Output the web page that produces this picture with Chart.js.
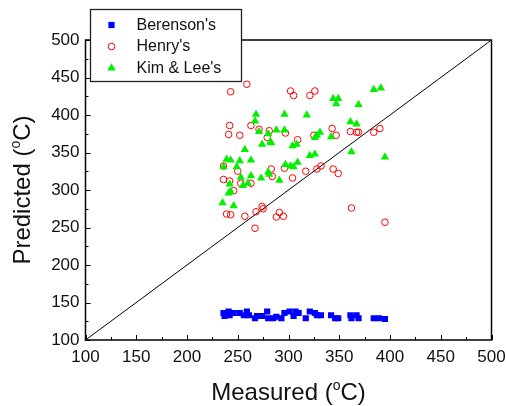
<!DOCTYPE html>
<html>
<head>
<meta charset="utf-8">
<script src="https://cdn.jsdelivr.net/npm/chart.js@4.4.0/dist/chart.umd.min.js"></script>
<style>
  html, body { margin: 0; padding: 0; background: #fff; }
  #wrap { width: 506px; height: 406px; }
</style>
</head>
<body>
<div id="wrap"><canvas id="chart" width="506" height="406"></canvas></div>
<script>
// measured vs predicted
const berensonX = [236, 237, 241, 242, 246, 252, 256, 259, 261, 267, 269, 274, 279, 280, 285, 288, 293, 296, 301, 305, 307, 310, 317, 321, 326, 328, 332, 342, 346, 349, 361, 362, 367, 369, 384, 389, 395];
const berensonY = [136, 132, 138, 133, 136, 136, 133, 138, 133, 129, 132, 132, 138, 129, 129, 131, 129, 136, 138, 132, 138, 136, 129, 138, 136, 133, 133, 133, 129, 129, 133, 129, 133, 129, 129, 129, 128];

const henryX = [243, 259, 302, 305, 321, 326, 242, 241, 252, 263, 271, 281, 297, 309, 279, 325, 343, 347, 361, 367, 369, 384, 390,
                236, 236, 242, 250, 253, 263, 246, 283, 284, 296, 304, 317, 328, 332, 344, 349,
                239, 243, 257, 268, 274, 275, 291, 288, 295, 267, 362, 395];
const henryY = [431, 441, 432, 426, 426, 432, 386, 374, 373, 386, 381, 379, 376, 367, 370, 373, 382, 373, 378, 377, 377, 377, 382,
                332, 314, 312, 325, 309, 309, 299, 328, 318, 329, 316, 325, 328, 332, 328, 322,
                268, 267, 265, 271, 278, 275, 270, 264, 265, 249, 276, 257];

const kimX = [384, 391, 344, 349, 347, 369, 268, 296, 318, 267, 271, 280, 288, 296, 274, 282, 283, 257, 361, 367, 331, 328, 326, 342,
              304, 308, 362, 395, 321, 326, 239, 243, 252, 263, 236, 249, 297, 302, 305, 309, 253, 263, 273, 280, 281, 291,
              242, 255, 260, 241, 243, 235, 246];
const kimY = [434, 436, 422, 422, 415, 414, 401, 401, 400, 392, 378, 375, 380, 380, 361, 364, 363, 354, 391, 388, 377, 373, 370, 371,
              359, 361, 351, 344, 346, 348, 341, 340, 339, 340, 331, 331, 334, 332, 331, 337, 317, 319, 316, 324, 321, 313,
              308, 306, 309, 296, 298, 283, 279];

const diagX = [100, 500];
const diagY = [100, 500];

const xTicks = [100, 150, 200, 250, 300, 350, 400, 450, 500];
const yTicks = [100, 150, 200, 250, 300, 350, 400, 450, 500];

function toPoints(xs, ys) {
    return xs.map((x, i) => ({ x: x, y: ys[i] }));
}

const FONT = "'Liberation Sans', Arial, sans-serif";

// ticks point inward, box closed, legend inside the box, titles with raised "o"
const framePlugin = {
    id: 'frame',
    afterDraw(chart) {
        const ctx = chart.ctx;
        const a = chart.chartArea;
        const xs = chart.scales.x;
        const ys = chart.scales.y;
        ctx.save();
        ctx.strokeStyle = '#000';
        ctx.lineWidth = 1.5;
        ctx.strokeRect(a.left, a.top, a.right - a.left, a.bottom - a.top);

        ctx.lineWidth = 1;
        for (let v = 100; v <= 500; v += 25) {
            const len = v % 50 === 0 ? 5 : 3;
            const px = Math.round(xs.getPixelForValue(v)) + 0.5;
            ctx.beginPath();
            ctx.moveTo(px, a.bottom);
            ctx.lineTo(px, a.bottom - len);
            ctx.stroke();
            const py = Math.round(ys.getPixelForValue(v)) + 0.5;
            ctx.beginPath();
            ctx.moveTo(a.left, py);
            ctx.lineTo(a.left + len, py);
            ctx.stroke();
        }

        // legend
        const lx = 90.5, ly = 9.5, lw = 151, lh = 72;
        ctx.fillStyle = '#fff';
        ctx.fillRect(lx, ly, lw, lh);
        ctx.strokeStyle = '#222';
        ctx.lineWidth = 1.3;
        ctx.strokeRect(lx, ly, lw, lh);
        const rows = [25, 46.5, 68];
        chart.data.datasets.slice(0, 3).forEach((ds, i) => {
            ctx.fillStyle = ds.backgroundColor;
            ctx.strokeStyle = ds.borderColor;
            ctx.lineWidth = ds.borderWidth;
            Chart.helpers.drawPoint(ctx, {
                pointStyle: ds.pointStyle,
                radius: ds.pointRadius,
                rotation: 0,
                borderWidth: ds.borderWidth
            }, 111.5, rows[i]);
            ctx.fillStyle = '#111';
            ctx.font = '16px ' + FONT;
            ctx.textBaseline = 'middle';
            ctx.textAlign = 'left';
            ctx.fillText(ds.label, 136.5, rows[i] + 0.5);
        });

        // axis titles
        function titled(text1, text2, cx, cy, rot) {
            ctx.save();
            ctx.translate(cx, cy);
            ctx.rotate(rot);
            ctx.fillStyle = '#111';
            ctx.textBaseline = 'alphabetic';
            ctx.textAlign = 'left';
            const big = '24px ' + FONT, small = '14px ' + FONT;
            ctx.font = big;
            const w1 = ctx.measureText(text1).width;
            const w3 = ctx.measureText(text2).width;
            ctx.font = small;
            const w2 = ctx.measureText('o').width;
            let x = -(w1 + w2 + w3) / 2;
            ctx.font = big;
            ctx.fillText(text1, x, 0);
            x += w1;
            ctx.font = small;
            ctx.fillText('o', x, -10);
            x += w2;
            ctx.font = big;
            ctx.fillText(text2, x, 0);
            ctx.restore();
        }
        titled('Measured (', 'C)', (a.left + a.right) / 2, 400, 0);
        titled('Predicted (', 'C)', 30, (a.top + a.bottom) / 2, -Math.PI / 2);
        ctx.restore();
    }
};

new Chart(document.getElementById('chart').getContext('2d'), {
    type: 'scatter',
    data: {
        datasets: [
            {
                label: "Berenson's",
                data: toPoints(berensonX, berensonY),
                pointStyle: 'rect',
                pointRadius: 4.4,
                backgroundColor: '#0000ff',
                borderColor: '#0000ff',
                borderWidth: 0,
                order: 2
            },
            {
                label: "Henry's",
                data: toPoints(henryX, henryY),
                pointStyle: 'circle',
                pointRadius: 3.3,
                backgroundColor: 'rgba(255,255,255,0)',
                borderColor: '#ff0000',
                borderWidth: 1,
                order: 1
            },
            {
                label: "Kim & Lee's",
                data: toPoints(kimX, kimY),
                pointStyle: 'triangle',
                pointRadius: 4.8,
                backgroundColor: '#00f000',
                borderColor: '#00f000',
                borderWidth: 0,
                order: 0
            },
            {
                label: 'diagonal',
                type: 'line',
                data: toPoints(diagX, diagY),
                borderColor: '#000',
                borderWidth: 1,
                pointRadius: 0,
                fill: false,
                order: 3
            }
        ]
    },
    options: {
        responsive: false,
        animation: false,
        devicePixelRatio: 1,
        layout: { padding: { left: 0, right: 14.5, top: 40, bottom: 0 } },
        plugins: { legend: { display: false }, tooltip: { enabled: false } },
        scales: {
            x: {
                type: 'linear',
                min: 100,
                max: 500,
                afterFit: (s) => { s.height = 66; s.paddingLeft = 0; s.paddingRight = 0; },
                afterBuildTicks: (s) => { s.ticks = xTicks.map(v => ({ value: v })); },
                grid: { display: false, drawTicks: false },
                border: { display: false },
                ticks: { padding: 7, color: '#111', font: { size: 17, family: FONT }, maxRotation: 0 }
            },
            y: {
                type: 'linear',
                min: 100,
                max: 500,
                afterFit: (s) => { s.width = 85.5; s.paddingTop = 0; s.paddingBottom = 0; },
                afterBuildTicks: (s) => { s.ticks = yTicks.map(v => ({ value: v })); },
                grid: { display: false, drawTicks: false },
                border: { display: false },
                ticks: { padding: 6, color: '#111', font: { size: 17, family: FONT } }
            }
        }
    },
    plugins: [framePlugin]
});
</script>
</body>
</html>
